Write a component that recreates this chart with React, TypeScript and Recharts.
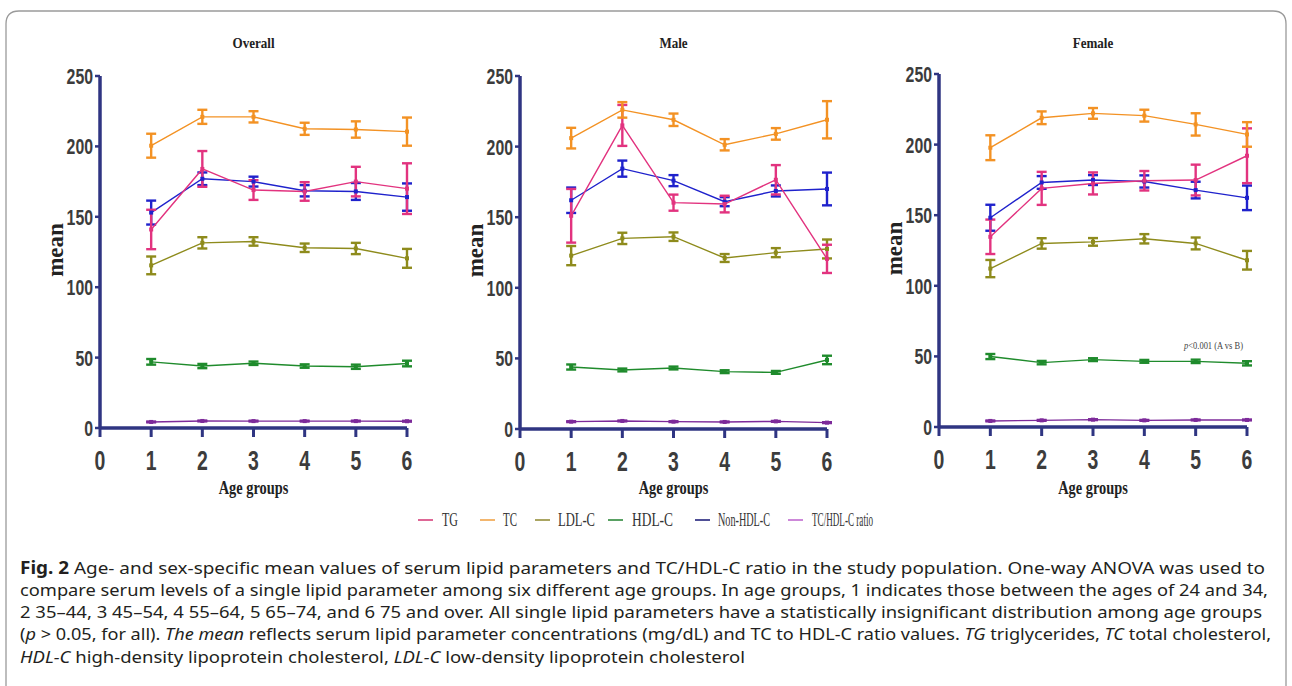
import React from 'react';
import { LineChart, Line, XAxis, YAxis, ErrorBar } from 'recharts';

// ---------- data ----------
const ageGroups = [1, 2, 3, 4, 5, 6];
const xTicks = [0, 1, 2, 3, 4, 5, 6];
const yTicks = [0, 50, 100, 150, 200, 250];
const panelTitles = ['Overall', 'Male', 'Female'];
const seriesKeys = ['tg', 'tc', 'ldl', 'hdl', 'nonhdl', 'ratio'];
const seriesNames = ['TG', 'TC', 'LDL-C', 'HDL-C', 'Non-HDL-C', 'TC/HDL-C ratio'];

// Overall
const overallTG = [141, 184, 169, 168, 175, 170];
const overallTGErr = [14, 12.7, 7, 6.6, 10.5, 18];
const overallTC = [200.5, 221, 221, 212.5, 212, 210.5];
const overallTCErr = [8.5, 5, 4, 4.3, 5.8, 10];
const overallLDL = [115.5, 131.5, 132.5, 128, 127.5, 120.5];
const overallLDLErr = [6.3, 4, 3, 3, 4, 6.7];
const overallHDL = [47, 44, 46, 44, 43.5, 45.8];
const overallHDLErr = [2, 1.5, 1.2, 1.2, 1.5, 2];
const overallNonHDL = [153, 177, 175, 168.5, 168, 164];
const overallNonHDLErr = [8.5, 4.5, 3.5, 4, 6, 9.7];
const overallRatio = [4.3, 5.0, 4.9, 4.9, 4.9, 4.8];
const overallRatioErr = [0.3, 0.3, 0.3, 0.3, 0.3, 0.3];

// Male
const maleTG = [151, 215, 160.3, 159.3, 176.5, 120.5];
const maleTGErr = [19, 14.5, 5.7, 5.9, 10.4, 10];
const maleTC = [206, 226, 219, 201.3, 209, 219];
const maleTCErr = [7.3, 5.5, 4.4, 4, 4.1, 13.2];
const maleLDL = [122.8, 135, 136.2, 121.1, 124.9, 127.5];
const maleLDLErr = [6.8, 4, 3, 2.8, 3.2, 6.7];
const maleHDL = [43.9, 41.8, 43.2, 40.6, 40.1, 48.9];
const maleHDLErr = [1.8, 1, 1, 1, 1, 3];
const maleNonHDL = [162, 184.4, 175.9, 161, 168.6, 170];
const maleNonHDLErr = [9, 5.7, 3.9, 3.2, 3.9, 11.6];
const maleRatio = [5.2, 5.7, 5.2, 5.0, 5.4, 4.5];
const maleRatioErr = [0.3, 0.3, 0.3, 0.3, 0.3, 0.3];

// Female
const femaleTG = [134.7, 169, 172.5, 174.4, 174.9, 192.1];
const femaleTGErr = [12.2, 11.7, 7.8, 6.9, 10.9, 19.4];
const femaleTC = [197.8, 219, 222.1, 220.5, 214.3, 207.2];
const femaleTCErr = [8.8, 4.5, 3.8, 4.2, 7.9, 8.7];
const femaleLDL = [112.2, 130, 131.1, 133.3, 130, 118.1];
const femaleLDLErr = [6.1, 3.7, 2.7, 3.3, 4.2, 6.6];
const femaleHDL = [49.9, 45.6, 47.7, 46.5, 46.5, 45.1];
const femaleHDLErr = [1.8, 1.2, 1, 1, 1.2, 1.5];
const femaleNonHDL = [148.2, 173.2, 174.9, 173.9, 167.8, 162.3];
const femaleNonHDLErr = [9.2, 4.5, 3.5, 4.3, 5.9, 8.7];
const femaleRatio = [4.3, 4.7, 5.2, 4.7, 5.0, 5.0];
const femaleRatioErr = [0.3, 0.3, 0.3, 0.3, 0.3, 0.3];

const captionLines = [
  ['Fig. 2', '  Age- and sex-specific mean values of serum lipid parameters and TC/HDL-C ratio in the study population. One-way ANOVA was used to'],
  ['', 'compare serum levels of a single lipid parameter among six different age groups. In age groups, 1 indicates those between the ages of 24 and 34,'],
  ['', '2 35\u201344, 3 45\u201354, 4 55\u201364, 5 65\u201374, and 6 75 and over. All single lipid parameters have a statistically insignificant distribution among age groups'],
];

// ---------- styles ----------
const lineColors = ['#e2337f', '#f39224', '#8e8b1c', '#1f8b2c', '#1f22cc', '#7d2a9a'];
const legendColors = ['#d6407c', '#f0a44a', '#958f3a', '#2f8a3c', '#23237c', '#c06ad0'];
const AXIS = '#2f3582';

type Row = Record<string, number>;
function buildRows(vals: number[][], errs: number[][]): Row[] {
  return ageGroups.map((g, i) => {
    const r: Row = { x: g };
    seriesKeys.forEach((k, s) => {
      r[k] = vals[s][i];
      r[k + 'Err'] = errs[s][i];
    });
    return r;
  });
}

const panelData = [
  buildRows(
    [overallTG, overallTC, overallLDL, overallHDL, overallNonHDL, overallRatio],
    [overallTGErr, overallTCErr, overallLDLErr, overallHDLErr, overallNonHDLErr, overallRatioErr]
  ),
  buildRows(
    [maleTG, maleTC, maleLDL, maleHDL, maleNonHDL, maleRatio],
    [maleTGErr, maleTCErr, maleLDLErr, maleHDLErr, maleNonHDLErr, maleRatioErr]
  ),
  buildRows(
    [femaleTG, femaleTC, femaleLDL, femaleHDL, femaleNonHDL, femaleRatio],
    [femaleTGErr, femaleTCErr, femaleLDLErr, femaleHDLErr, femaleNonHDLErr, femaleRatioErr]
  ),
];

const panels = [
  { left: 40, top: 60, plotW: 307, plotH: 352 },
  { left: 460, top: 60, plotW: 307, plotH: 353 },
  { left: 879, top: 58, plotW: 308, plotH: 353 },
];
const Y_AXIS_W = 60;
const TOP_M = 16;
const X_AXIS_H = 60;

const drawOrder = [3, 5, 2, 4, 0, 1];

const YTick = (props: any) => {
  const { x, y, payload } = props;
  return (
    <g transform={`translate(${x},${y})`}>
      <text transform="scale(0.72,1)" textAnchor="end" dy="0.36em" fontSize={22}
        fontFamily="'Liberation Sans', Arial, sans-serif" fontWeight="bold" fill="#3c3c3c">
        {payload.value}
      </text>
    </g>
  );
};

const makeXTick = (baseline: number) => (props: any) => {
  const { x, payload } = props;
  return (
    <g transform={`translate(${x},${baseline})`}>
      <text transform="scale(0.72,1)" textAnchor="middle" fontSize={27}
        fontFamily="'Liberation Sans', Arial, sans-serif" fontWeight="bold" fill="#3c3c3c">
        {payload.value}
      </text>
    </g>
  );
};

const squareDot = (color: string) => (props: any) => {
  const { cx, cy, index } = props;
  if (cx == null || cy == null) return <g key={`d${index}`} />;
  return <rect key={`d${index}`} x={cx - 2} y={cy - 2} width={4} height={4} fill={color} />;
};

function Panel({ idx }: { idx: number }) {
  const p = panels[idx];
  const width = Y_AXIS_W + p.plotW + 20;
  const height = TOP_M + p.plotH + X_AXIS_H;
  const XTick = makeXTick(TOP_M + p.plotH + 42);
  return (
    <div style={{ position: 'absolute', left: p.left, top: p.top, width, height }}>
      <LineChart width={width} height={height} data={panelData[idx]}
        margin={{ top: TOP_M, right: 20, bottom: 0, left: 0 }}>
        <XAxis type="number" dataKey="x" domain={[0, 6]} ticks={xTicks} interval={0}
          height={X_AXIS_H} axisLine={{ stroke: AXIS, strokeWidth: 3.5 }}
          tickLine={{ stroke: AXIS, strokeWidth: 3 }} tickSize={9} tick={<XTick />} />
        <YAxis type="number" domain={[0, 250]} ticks={yTicks} interval={0} width={Y_AXIS_W}
          axisLine={{ stroke: AXIS, strokeWidth: 3.5 }} tickLine={{ stroke: AXIS, strokeWidth: 2.5 }}
          tickSize={5} tickMargin={2} tick={<YTick />} allowDataOverflow />
        {drawOrder.map((s) => (
          <Line key={seriesKeys[s]} type="linear" dataKey={seriesKeys[s]} stroke={lineColors[s]}
            strokeWidth={1.4} dot={squareDot(lineColors[s])} activeDot={false}
            isAnimationActive={false}>
            <ErrorBar dataKey={seriesKeys[s] + 'Err'} direction="y" width={5}
              stroke={lineColors[s]} strokeWidth={2.4} />
          </Line>
        ))}
      </LineChart>
    </div>
  );
}

const serif = "'Liberation Serif', 'Times New Roman', serif";
const sans = "'Noto Sans', 'Open Sans', sans-serif";

function Overlay() {
  const legendLineX = [418, 480, 535, 608, 695, 788];
  const legendTextX = [442, 503, 558, 632, 718, 812];
  const legendTextW = [16, 14, 37, 41, 52, 61];
  const capBase = [574, 596, 618, 640, 663];
  const capEnd = [1265, 1268, 1262, 1271, 745];
  return (
    <svg width={1292} height={686} style={{ position: 'absolute', left: 0, top: 0, pointerEvents: 'none' }}>
      <path d="M6,686 V24 Q6,11 19,11 H1273 Q1286,11 1286,24 V686" fill="none" stroke="#9a9a9a" strokeWidth={1.3} />
      {panels.map((p, i) => {
        const plotL = p.left + Y_AXIS_W;
        const cx = plotL + p.plotW / 2;
        const cy = p.top + TOP_M + p.plotH / 2;
        return (
          <g key={i}>
            <text transform={`translate(${cx},48) scale(0.87,1)`} textAnchor="middle" fontFamily={serif}
              fontWeight="bold" fontSize={15} fill="#222">{panelTitles[i]}</text>
            <text transform={`translate(${plotL - 45},${cy - 2}) rotate(-90)`} textAnchor="middle"
              dominantBaseline="central" fontFamily={serif} fontWeight="bold" fontSize={23} fill="#222">mean</text>
            <text transform={`translate(${cx},494) scale(0.8,1)`} textAnchor="middle" fontFamily={serif}
              fontWeight="bold" fontSize={18} fill="#222">Age groups</text>
          </g>
        );
      })}
      <text x={1184} y={349} fontFamily={serif} fontSize={11} fill="#444" textLength={59} lengthAdjust="spacingAndGlyphs">
        <tspan fontStyle="italic">p</tspan>&lt;0.001 (A vs B)
      </text>
      {seriesNames.map((n, i) => (
        <g key={n}>
          <line x1={legendLineX[i]} x2={legendLineX[i] + 15} y1={520} y2={520} stroke={legendColors[i]} strokeWidth={1.6} />
          <text x={legendTextX[i]} y={526} fontFamily={serif} fontSize={18} fill="#333"
            textLength={legendTextW[i]} lengthAdjust="spacingAndGlyphs">{n}</text>
        </g>
      ))}
      <g fontFamily={sans} fontSize={17} fill="#231f20">
        {captionLines.map((l, i) => (
          <text key={i} x={20} y={capBase[i]} textLength={capEnd[i] - 20} lengthAdjust="spacingAndGlyphs">
            {l[0] ? <tspan fontWeight="bold">{l[0]}</tspan> : null}
            <tspan>{l[1]}</tspan>
          </text>
        ))}
        <text x={20} y={capBase[3]} textLength={capEnd[3] - 20} lengthAdjust="spacingAndGlyphs">
          (<tspan fontStyle="italic">p</tspan> &gt; 0.05, for all). <tspan fontStyle="italic">The mean</tspan> reflects serum lipid parameter concentrations (mg/dL) and TC to HDL-C ratio values. <tspan fontStyle="italic">TG</tspan> triglycerides, <tspan fontStyle="italic">TC</tspan> total cholesterol,
        </text>
        <text x={20} y={capBase[4]} textLength={capEnd[4] - 20} lengthAdjust="spacingAndGlyphs">
          <tspan fontStyle="italic">HDL-C</tspan> high-density lipoprotein cholesterol, <tspan fontStyle="italic">LDL-C</tspan> low-density lipoprotein cholesterol
        </text>
      </g>
    </svg>
  );
}

export default function App() {
  return (
    <div style={{ position: 'absolute', left: 0, top: 0, width: 1292, height: 686, background: '#fff', overflow: 'hidden' }}>
      {[0, 1, 2].map((i) => <Panel key={i} idx={i} />)}
      <Overlay />
    </div>
  );
}
